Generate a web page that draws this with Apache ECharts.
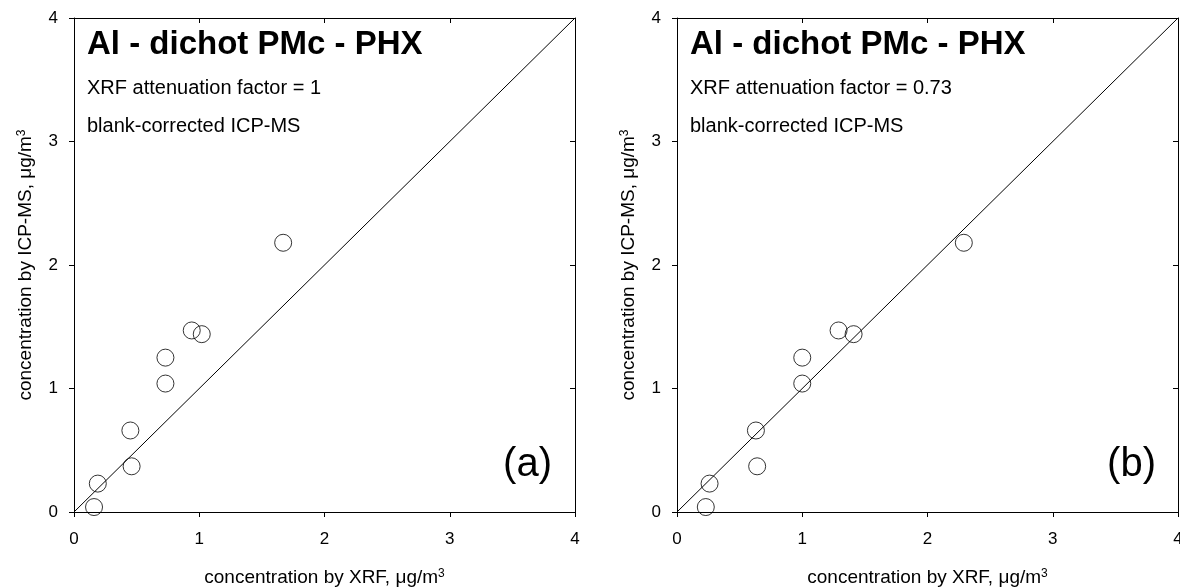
<!DOCTYPE html>
<html lang="en">
<head>
    <meta charset="UTF-8">
    <title>Al - dichot PMc - PHX</title>
    <script src="https://cdn.jsdelivr.net/npm/echarts@6/dist/echarts.min.js"></script>
    <style>
        body { margin: 0; background: #fff; }
    </style>
</head>
<body>
    <div id="main" style="width: 1180px;height: 588px;"></div>
    <script>
        // 数据：XRF vs ICP-MS
        var xrfA = [0.16, 0.19, 0.45, 0.46, 0.73, 0.73, 0.94, 1.02, 1.67];
        var icpA = [0.04, 0.23, 0.66, 0.37, 1.04, 1.25, 1.47, 1.44, 2.18];
        var xrfB = [0.23, 0.26, 0.63, 0.64, 1.00, 1.00, 1.29, 1.41, 2.29];
        var icpB = [0.04, 0.23, 0.66, 0.37, 1.04, 1.25, 1.47, 1.44, 2.18];
        var oneToOne = [0, 4];
        var ticks = [0, 1, 2, 3, 4];
        var titleText = 'Al - dichot PMc - PHX';
        var factorText = ['XRF attenuation factor = 1', 'XRF attenuation factor = 0.73'];
        var noteText = 'blank-corrected ICP-MS';
        var panelText = ['(a)', '(b)'];

        var font = 'Liberation Sans, Arial, sans-serif';
        var myChart = echarts.init(document.getElementById('main'));

        function pairs(xs, ys) {
            var out = [];
            for (var i = 0; i < xs.length; i++) {
                out.push([xs[i], ys[i]]);
            }
            return out;
        }

        var supRich = {
            sup: { fontSize: 12, fontFamily: font, color: '#000', verticalAlign: 'top', lineHeight: 14 }
        };

        function mainX(grid) {
            return {
                gridIndex: grid, type: 'value', position: 'bottom',
                min: ticks[0], max: ticks[ticks.length - 1], interval: 1,
                name: 'concentration by XRF, μg/m{sup|3}',
                nameLocation: 'middle', nameGap: 56,
                nameTextStyle: { fontSize: 19, fontFamily: font, color: '#000', rich: supRich },
                axisLine: { show: true, onZero: false, lineStyle: { color: '#000', width: 1 } },
                axisTick: { show: true, length: 5, lineStyle: { color: '#000' } },
                axisLabel: { fontSize: 17, fontFamily: font, color: '#000', margin: 19 },
                splitLine: { show: false }
            };
        }
        function mainY(grid) {
            return {
                gridIndex: grid, type: 'value', position: 'left',
                min: ticks[0], max: ticks[ticks.length - 1], interval: 1,
                name: 'concentration by ICP-MS, μg/m{sup|3}',
                nameLocation: 'middle', nameGap: 39, nameRotate: 90,
                nameTextStyle: { fontSize: 19, fontFamily: font, color: '#000', rich: supRich },
                axisLine: { show: true, onZero: false, lineStyle: { color: '#000', width: 1 } },
                axisTick: { show: true, length: 5, lineStyle: { color: '#000' } },
                axisLabel: { fontSize: 17, fontFamily: font, color: '#000', margin: 16 },
                splitLine: { show: false }
            };
        }
        // 上边、右边的镜像轴（刻度朝内）
        function mirror(grid, pos) {
            return {
                gridIndex: grid, type: 'value', position: pos,
                min: ticks[0], max: ticks[ticks.length - 1], interval: 1,
                axisLine: { show: true, onZero: false, lineStyle: { color: '#000', width: 1 } },
                axisTick: { show: true, inside: true, length: 5, lineStyle: { color: '#000' } },
                axisLabel: { show: false },
                splitLine: { show: false }
            };
        }

        function texts(x, k) {
            return [
                { type: 'text', left: x, top: 28, style: { text: titleText, fontSize: 33, fontWeight: 'bold', fontFamily: font, fill: '#000' } },
                { type: 'text', left: x, top: 78, style: { text: factorText[k], fontSize: 20, fontFamily: font, fill: '#000' } },
                { type: 'text', left: x, top: 116, style: { text: noteText, fontSize: 20, fontFamily: font, fill: '#000' } }
            ];
        }

        var option = {
            animation: false,
            grid: [
                { left: 74, top: 18, width: 501, height: 494, outerBoundsMode: 'none', containLabel: false },
                { left: 677, top: 18, width: 501, height: 494, outerBoundsMode: 'none', containLabel: false }
            ],
            xAxis: [mainX(0), mirror(0, 'top'), mainX(1), mirror(1, 'top')],
            yAxis: [mainY(0), mirror(0, 'right'), mainY(1), mirror(1, 'right')],
            graphic: texts(87, 0).concat(texts(690, 1)).concat([
                { type: 'text', right: 1180 - 552, top: 445, style: { text: panelText[0], fontSize: 40, fontFamily: font, fill: '#000' } },
                { type: 'text', right: 1180 - 1156, top: 445, style: { text: panelText[1], fontSize: 40, fontFamily: font, fill: '#000' } }
            ]),
            series: [
                {
                    type: 'line', xAxisIndex: 0, yAxisIndex: 0, symbol: 'none',
                    data: pairs(oneToOne, oneToOne),
                    lineStyle: { color: '#000', width: 1 }
                },
                {
                    type: 'scatter', xAxisIndex: 0, yAxisIndex: 0, symbol: 'circle', symbolSize: 17,
                    data: pairs(xrfA, icpA),
                    itemStyle: { color: 'rgba(0,0,0,0)', borderColor: '#000', borderWidth: 1 }
                },
                {
                    type: 'line', xAxisIndex: 2, yAxisIndex: 2, symbol: 'none',
                    data: pairs(oneToOne, oneToOne),
                    lineStyle: { color: '#000', width: 1 }
                },
                {
                    type: 'scatter', xAxisIndex: 2, yAxisIndex: 2, symbol: 'circle', symbolSize: 17,
                    data: pairs(xrfB, icpB),
                    itemStyle: { color: 'rgba(0,0,0,0)', borderColor: '#000', borderWidth: 1 }
                }
            ]
        };

        myChart.setOption(option);
    </script>
</body>
</html>
